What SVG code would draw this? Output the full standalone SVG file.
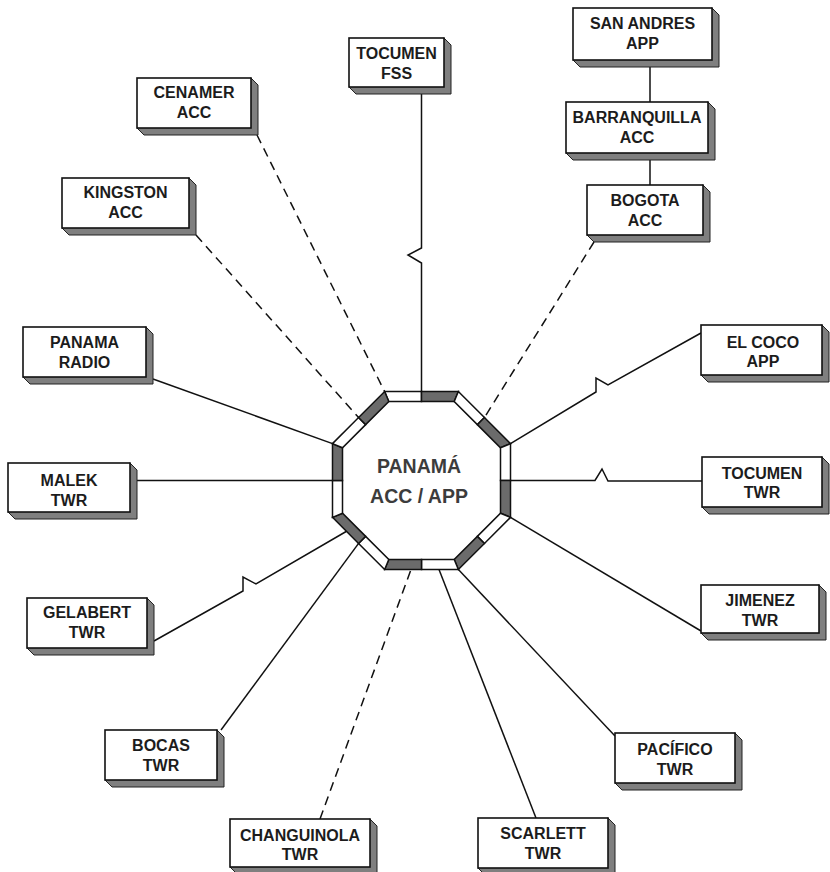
<svg xmlns="http://www.w3.org/2000/svg" width="830" height="872" viewBox="0 0 830 872">
  <style>
    .face { fill: #ffffff; stroke: #111111; stroke-width: 1.6; }
    .side { fill: #7f7f7f; stroke: #222222; stroke-width: 1; }
    .lbl { font-family: "Liberation Sans", Arial, sans-serif; font-weight: bold; font-size: 16px; fill: #1c1c1c; text-anchor: middle; }
    .hub { font-family: "Liberation Sans", Arial, sans-serif; font-weight: bold; font-size: 19.5px; fill: #3c3c3c; text-anchor: middle; }
    .ln { fill: none; stroke: #111111; stroke-width: 1.5; stroke-linejoin: miter; }
    .dash { stroke-dasharray: 9 6; }
    .seg-w { fill: #ffffff; stroke: #111111; stroke-width: 1.5; stroke-linejoin: miter; }
    .seg-g { fill: #6b6b6b; stroke: #111111; stroke-width: 1.5; stroke-linejoin: miter; }
  </style>
  <rect width="830" height="872" fill="#ffffff"/>

  <!-- links -->
  <g id="connectors">
    <path class="ln" d="M421.5,94 V248 L408,255 L421.5,263 V391.5"/>
    <line class="ln" x1="650" y1="67" x2="650" y2="102"/>
    <line class="ln" x1="650" y1="160" x2="650" y2="185"/>
    <line class="ln dash" x1="594" y1="242" x2="484.4" y2="417.6"/>
    <line class="ln dash" x1="257" y1="135" x2="384.6" y2="391.5"/>
    <line class="ln dash" x1="196" y1="235" x2="358.6" y2="417.6"/>
    <line class="ln" x1="153" y1="379" x2="332.5" y2="443.6"/>
    <line class="ln" x1="137" y1="480.5" x2="332.5" y2="480.5"/>
    <path class="ln" d="M154,641 L243,591 L243,577 L256,584 L347,531"/>
    <line class="ln" x1="221" y1="730" x2="358.6" y2="543.4"/>
    <line class="ln dash" x1="320" y1="819" x2="411" y2="569.5"/>
    <line class="ln" x1="536" y1="818" x2="439" y2="569.5"/>
    <line class="ln" x1="458.4" y1="569.5" x2="615" y2="736"/>
    <line class="ln" x1="510.5" y1="517.4" x2="701" y2="631"/>
    <path class="ln" d="M510.5,480.5 H595 L602,469 L608,481 H702"/>
    <path class="ln" d="M510.5,443.6 L596,392 L596,378 L608,385 L701,333"/>
  </g>

  <!-- central octagon: each side split into a white and a grey half -->
  <g id="panama-acc-app">
    <polygon class="seg-w" points="384.64,391.5 421.5,391.5 421.5,401.5 388.78,401.5"/>
    <polygon class="seg-g" points="421.5,391.5 458.36,391.5 454.22,401.5 421.5,401.5"/>
    <polygon class="seg-w" points="458.36,391.5 484.43,417.57 477.36,424.64 454.22,401.5"/>
    <polygon class="seg-g" points="484.43,417.57 510.5,443.64 500.5,447.78 477.36,424.64"/>
    <polygon class="seg-w" points="510.5,443.64 510.5,480.5 500.5,480.5 500.5,447.78"/>
    <polygon class="seg-g" points="510.5,480.5 510.5,517.36 500.5,513.22 500.5,480.5"/>
    <polygon class="seg-w" points="510.5,517.36 484.43,543.43 477.36,536.36 500.5,513.22"/>
    <polygon class="seg-g" points="484.43,543.43 458.36,569.5 454.22,559.5 477.36,536.36"/>
    <polygon class="seg-w" points="458.36,569.5 421.5,569.5 421.5,559.5 454.22,559.5"/>
    <polygon class="seg-g" points="421.5,569.5 384.64,569.5 388.78,559.5 421.5,559.5"/>
    <polygon class="seg-w" points="384.64,569.5 358.57,543.43 365.64,536.36 388.78,559.5"/>
    <polygon class="seg-g" points="358.57,543.43 332.5,517.36 342.5,513.22 365.64,536.36"/>
    <polygon class="seg-w" points="332.5,517.36 332.5,480.5 342.5,480.5 342.5,513.22"/>
    <polygon class="seg-g" points="332.5,480.5 332.5,443.64 342.5,447.78 342.5,480.5"/>
    <polygon class="seg-w" points="332.5,443.64 358.57,417.57 365.64,424.64 342.5,447.78"/>
    <polygon class="seg-g" points="358.57,417.57 384.64,391.5 388.78,401.5 365.64,424.64"/>
    <text class="hub" x="419" y="473">PANAMÁ</text>
    <text class="hub" x="419" y="503">ACC / APP</text>
  </g>

  <g id="tocumen-fss">
    <polygon class="side" points="444,38 451,45 451,94 356,94 349,87"/>
    <rect class="face" x="349" y="38" width="95" height="49"/>
    <text class="lbl" x="396.5" y="59">TOCUMEN</text>
    <text class="lbl" x="396.5" y="79">FSS</text>
  </g>

  <g id="san-andres-app">
    <polygon class="side" points="712,8 719,15 719,67 580,67 573,60"/>
    <rect class="face" x="573" y="8" width="139" height="52"/>
    <text class="lbl" x="642.5" y="29">SAN ANDRES</text>
    <text class="lbl" x="642.5" y="49">APP</text>
  </g>

  <g id="barranquilla-acc">
    <polygon class="side" points="708,102 715,109 715,160 573,160 566,153"/>
    <rect class="face" x="566" y="102" width="142" height="51"/>
    <text class="lbl" x="637" y="123">BARRANQUILLA</text>
    <text class="lbl" x="637" y="143">ACC</text>
  </g>

  <g id="bogota-acc">
    <polygon class="side" points="703,185 710,192 710,242 594,242 587,235"/>
    <rect class="face" x="587" y="185" width="116" height="50"/>
    <text class="lbl" x="645" y="206">BOGOTA</text>
    <text class="lbl" x="645" y="226">ACC</text>
  </g>

  <g id="cenamer-acc">
    <polygon class="side" points="251,78 258,85 258,135 144,135 137,128"/>
    <rect class="face" x="137" y="78" width="114" height="50"/>
    <text class="lbl" x="194" y="98">CENAMER</text>
    <text class="lbl" x="194" y="118">ACC</text>
  </g>

  <g id="kingston-acc">
    <polygon class="side" points="189,178 196,185 196,235 69,235 62,228"/>
    <rect class="face" x="62" y="178" width="127" height="50"/>
    <text class="lbl" x="125.5" y="198">KINGSTON</text>
    <text class="lbl" x="125.5" y="218">ACC</text>
  </g>

  <g id="panama-radio">
    <polygon class="side" points="146,327 153,334 153,384 30,384 23,377"/>
    <rect class="face" x="23" y="327" width="123" height="50"/>
    <text class="lbl" x="84.5" y="348">PANAMA</text>
    <text class="lbl" x="84.5" y="368">RADIO</text>
  </g>

  <g id="malek-twr">
    <polygon class="side" points="130,463 137,470 137,519 15,519 8,512"/>
    <rect class="face" x="8" y="463" width="122" height="49"/>
    <text class="lbl" x="69" y="486">MALEK</text>
    <text class="lbl" x="69" y="506">TWR</text>
  </g>

  <g id="gelabert-twr">
    <polygon class="side" points="147,598 154,605 154,655 34,655 27,648"/>
    <rect class="face" x="27" y="598" width="120" height="50"/>
    <text class="lbl" x="87" y="618">GELABERT</text>
    <text class="lbl" x="87" y="638">TWR</text>
  </g>

  <g id="bocas-twr">
    <polygon class="side" points="217,730 224,737 224,787 112,787 105,780"/>
    <rect class="face" x="105" y="730" width="112" height="50"/>
    <text class="lbl" x="161" y="751">BOCAS</text>
    <text class="lbl" x="161" y="771">TWR</text>
  </g>

  <g id="changuinola-twr">
    <polygon class="side" points="370,819 377,826 377,874 237,874 230,867"/>
    <rect class="face" x="230" y="819" width="140" height="48"/>
    <text class="lbl" x="300" y="841">CHANGUINOLA</text>
    <text class="lbl" x="300" y="860">TWR</text>
  </g>

  <g id="scarlett-twr">
    <polygon class="side" points="608,818 615,825 615,875 485,875 478,868"/>
    <rect class="face" x="478" y="818" width="130" height="50"/>
    <text class="lbl" x="543" y="839">SCARLETT</text>
    <text class="lbl" x="543" y="859">TWR</text>
  </g>

  <g id="pacifico-twr">
    <polygon class="side" points="735,733 742,740 742,790 622,790 615,783"/>
    <rect class="face" x="615" y="733" width="120" height="50"/>
    <text class="lbl" x="675" y="755">PACÍFICO</text>
    <text class="lbl" x="675" y="775">TWR</text>
  </g>

  <g id="jimenez-twr">
    <polygon class="side" points="819,585 826,592 826,640 708,640 701,633"/>
    <rect class="face" x="701" y="585" width="118" height="48"/>
    <text class="lbl" x="760" y="606">JIMENEZ</text>
    <text class="lbl" x="760" y="626">TWR</text>
  </g>

  <g id="tocumen-twr">
    <polygon class="side" points="822,457 829,464 829,514 709,514 702,507"/>
    <rect class="face" x="702" y="457" width="120" height="50"/>
    <text class="lbl" x="762" y="479">TOCUMEN</text>
    <text class="lbl" x="762" y="498">TWR</text>
  </g>

  <g id="el-coco-app">
    <polygon class="side" points="822,325 829,332 829,382 708,382 701,375"/>
    <rect class="face" x="701" y="325" width="121" height="50"/>
    <text class="lbl" x="763" y="348">EL COCO</text>
    <text class="lbl" x="763" y="367">APP</text>
  </g>
</svg>
